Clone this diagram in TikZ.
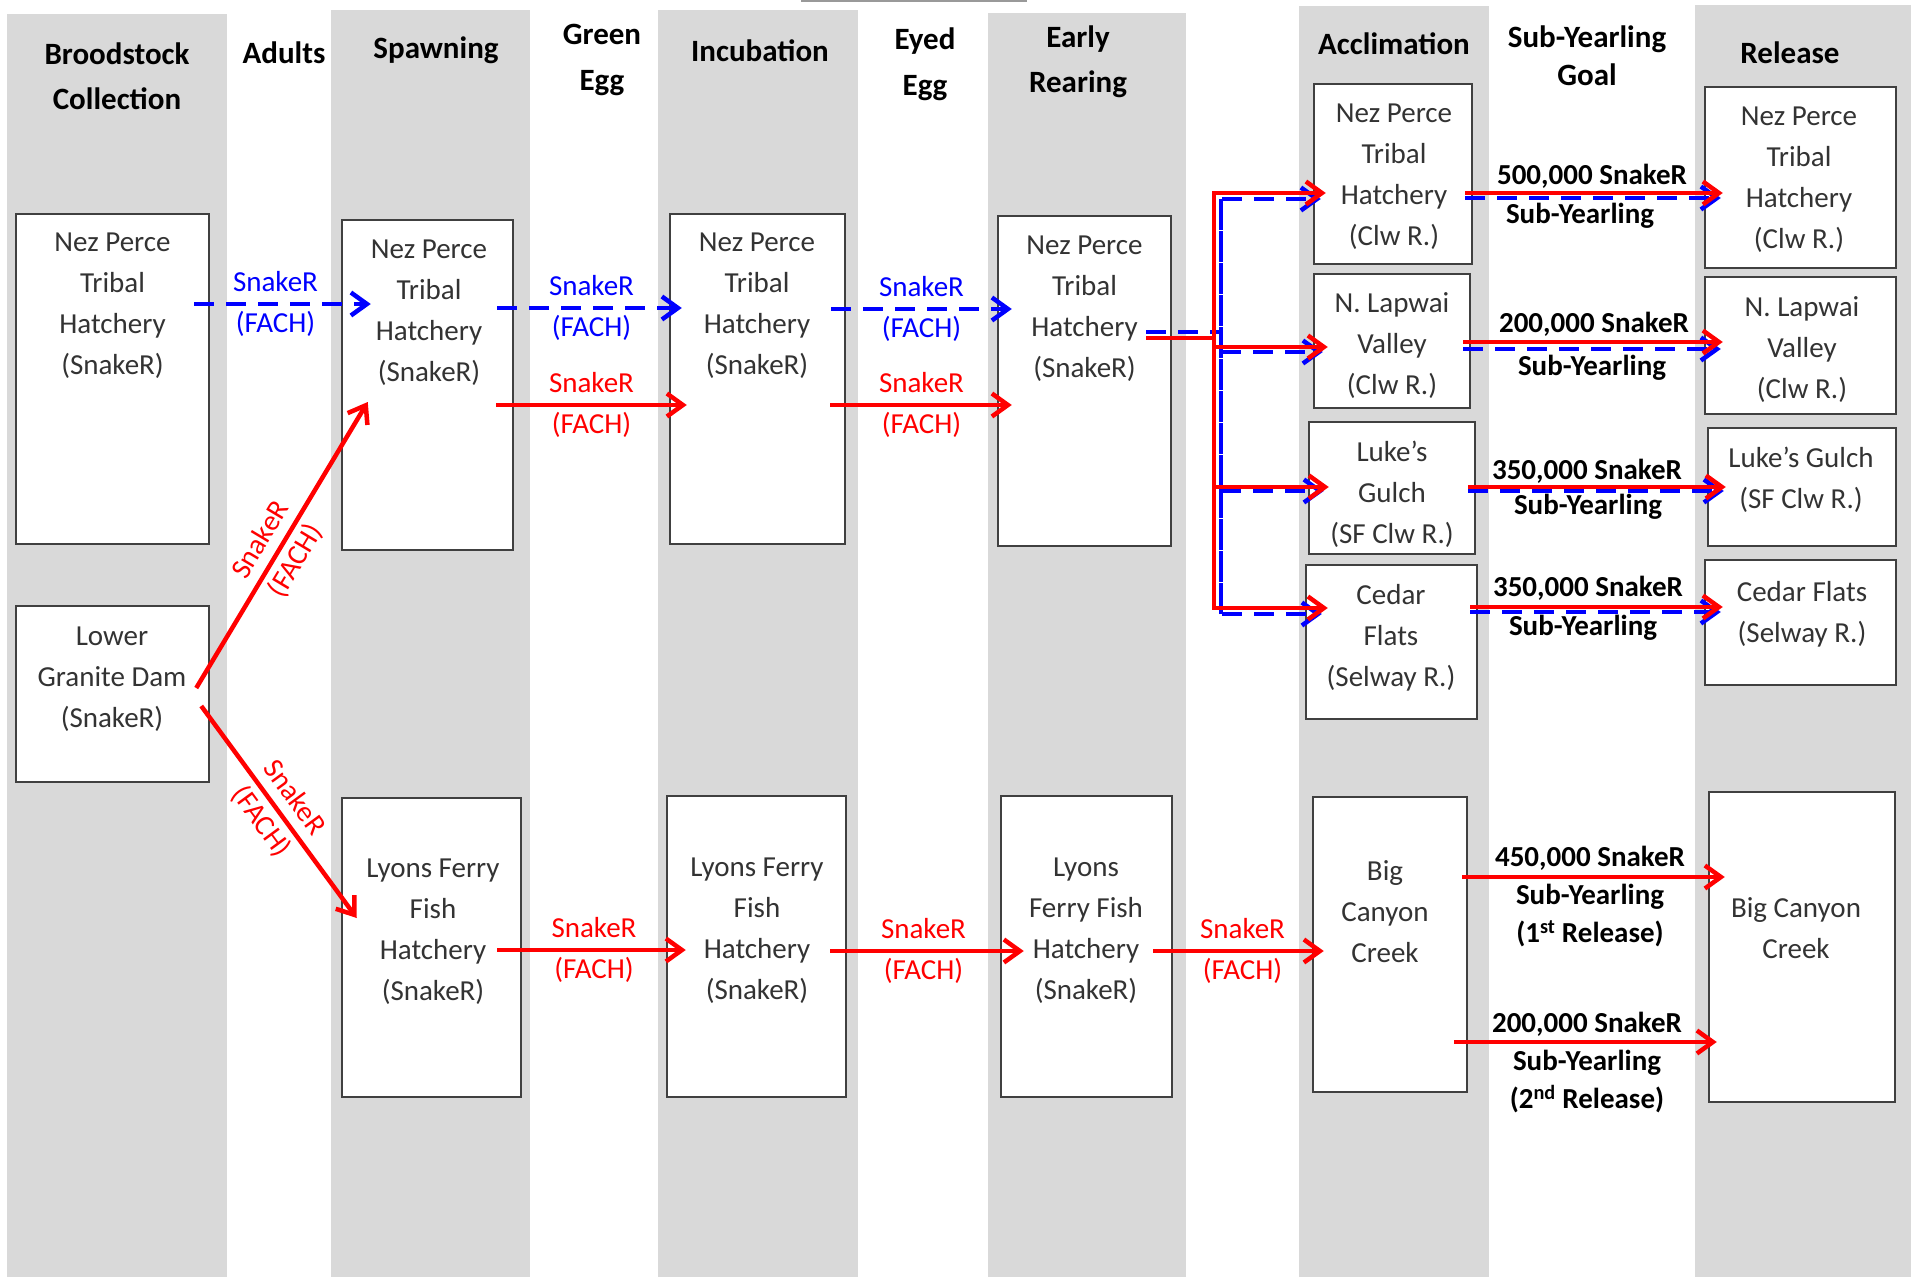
\documentclass[tikz,border=0pt]{standalone}
\usepackage{fontspec}
\setmainfont{Carlito}
\usetikzlibrary{arrows.meta}
\definecolor{lanegray}{RGB}{217,217,217}
\definecolor{boxgray}{RGB}{64,64,64}
\definecolor{flowred}{RGB}{255,0,0}
\definecolor{flowblue}{RGB}{0,0,255}
\newcommand{\stagebox}[5]{\node[box, minimum width={(#4-#2)*1pt}, minimum height={(#5-#3)*1pt}] (#1) at ({(#2+#4)/2},{(#3+#5)/2}) {};}
\tikzset{
    box/.style={draw=boxgray, line width=2.5pt, fill=white, rectangle, inner sep=0pt},
    boxtext/.style={align=center, text=black!80, font=\fontsize{29}{41}\selectfont},
    head/.style={align=center, font=\bfseries\fontsize{31}{45}\selectfont},
    goal/.style={align=center, font=\bfseries\fontsize{29}{38}\selectfont},
    tag/.style={align=center, font=\fontsize{29}{41}\selectfont},
    redline/.style={color=flowred, line width=4.5pt},
    blueline/.style={color=flowblue, line width=4.5pt, dash pattern=on 20pt off 12pt},
    redflow/.style={redline, -{Straight Barb[length=16pt, width=23pt]}},
    blueflow/.style={blueline, -{Straight Barb[length=16pt, width=23pt]}}
}
\begin{document}
\begin{tikzpicture}[x=1pt, y=-1pt]
    \useasboundingbox (0,0) rectangle (1917,1277);

    \foreach \xa/\xb/\yt in {7/227/14, 331/530/10, 658/858/10, 988/1186/13, 1299/1489/6, 1695/1911/5}
        \fill[lanegray] (\xa,\yt) rectangle (\xb,1277);
    \draw[black!40, line width=2pt] (801,1) -- (1027,1);

    \node[head] (h-brood) at (117,76) {Broodstock\\Collection};
    \node[head] (h-adult) at (284,53) {Adults};
    \node[head] (h-spawn) at (436,50) {Spawning};
    \node[head, font=\bfseries\fontsize{31}{46}\selectfont] (h-green) at (602,60) {Green\\Egg};
    \node[head] (h-incub) at (760,51) {Incubation};
    \node[head, font=\bfseries\fontsize{31}{46}\selectfont] (h-eyed) at (925,64) {Eyed\\Egg};
    \node[head] (h-early) at (1078,62) {Early\\Rearing};
    \node[head] (h-accl) at (1394,44) {Acclimation};
    \node[head, font=\bfseries\fontsize{31}{38}\selectfont] (h-goal) at (1587,56) {Sub-Yearling\\Goal};
    \node[head] (h-rel) at (1790,53) {Release};

    \stagebox{bnp}{16}{214}{209}{544}
    \stagebox{blgd}{16}{606}{209}{782}
    \stagebox{snp}{342}{220}{513}{550}
    \stagebox{slf}{342}{798}{521}{1097}
    \stagebox{inp}{670}{214}{845}{544}
    \stagebox{ilf}{667}{796}{846}{1097}
    \stagebox{enp}{998}{216}{1171}{546}
    \stagebox{elf}{1001}{796}{1172}{1097}
    \stagebox{anp}{1314}{84}{1472}{264}
    \stagebox{anl}{1314}{274}{1470}{408}
    \stagebox{alg}{1309}{422}{1475}{554}
    \stagebox{acf}{1306}{565}{1477}{719}
    \stagebox{abc}{1313}{797}{1467}{1092}
    \stagebox{rnp}{1705}{87}{1896}{268}
    \stagebox{rnl}{1705}{277}{1896}{414}
    \stagebox{rlg}{1708}{428}{1896}{546}
    \stagebox{rcf}{1705}{560}{1896}{685}
    \stagebox{rbc}{1709}{792}{1895}{1102}

    \node[boxtext] (bnp-t) at (112.5,306) {Nez Perce\\Tribal\\Hatchery\\(SnakeR)};
    \node[boxtext] (blgd-t) at (112,679) {Lower\\Granite Dam\\(SnakeR)};
    \node[boxtext] (snp-t) at (429,313) {Nez Perce\\Tribal\\Hatchery\\(SnakeR)};
    \node[boxtext] (slf-t) at (433,932) {Lyons Ferry\\Fish\\Hatchery\\(SnakeR)};
    \node[boxtext] (inp-t) at (757,306) {Nez Perce\\Tribal\\Hatchery\\(SnakeR)};
    \node[boxtext] (ilf-t) at (757,931) {Lyons Ferry\\Fish\\Hatchery\\(SnakeR)};
    \node[boxtext] (enp-t) at (1084.5,309) {Nez Perce\\Tribal\\Hatchery\\(SnakeR)};
    \node[boxtext] (elf-t) at (1086,931) {Lyons\\Ferry Fish\\Hatchery\\(SnakeR)};
    \node[boxtext] (anp-t) at (1394,177) {Nez Perce\\Tribal\\Hatchery\\(Clw R.)};
    \node[boxtext] (anl-t) at (1392,346) {N. Lapwai\\Valley\\(Clw R.)};
    \node[boxtext] (alg-t) at (1392,494) {Luke’s\\Gulch\\(SF Clw R.)};
    \node[boxtext] (acf-t) at (1391,638) {Cedar\\Flats\\(Selway R.)};
    \node[boxtext] (abc-t) at (1385,912) {Big\\Canyon\\Creek};
    \node[boxtext] (rnp-t) at (1799,180) {Nez Perce\\Tribal\\Hatchery\\(Clw R.)};
    \node[boxtext] (rnl-t) at (1802,350) {N. Lapwai\\Valley\\(Clw R.)};
    \node[boxtext] (rlg-t) at (1801,480) {Luke’s Gulch\\(SF Clw R.)};
    \node[boxtext] (rcf-t) at (1802,614) {Cedar Flats\\(Selway R.)};
    \node[boxtext] (rbc-t) at (1796,928) {Big Canyon\\Creek};

    \draw[blueflow, shorten <=-16pt, shorten >=-30pt] (bnp.east |- 0,304) -- node[tag] (f-ad) {SnakeR\\(FACH)} (snp.west |- 0,304);
    \draw[blueflow, shorten <=-17pt, shorten >=-13pt] (snp.east |- 0,308) -- node[tag] (f-ge) {SnakeR\\(FACH)} (inp.west |- 0,308);
    \draw[blueflow, shorten <=-15pt, shorten >=-15pt] (inp.east |- 0,309) -- node[tag] (f-ee) {SnakeR\\(FACH)} (enp.west |- 0,309);
    \draw[redflow, shorten <=-18pt, shorten >=-18pt] (snp.east |- 0,405) -- node[tag] (f-ge2) {SnakeR\\(FACH)} (inp.west |- 0,405);
    \draw[redflow, shorten <=-16pt, shorten >=-15pt] (inp.east |- 0,405) -- node[tag] (f-ee2) {SnakeR\\(FACH)} (enp.west |- 0,405);

    \draw[redflow] ([xshift=-14pt, yshift=6pt]blgd.east) -- node[tag, sloped, pos=0.48] (f-up) {SnakeR\\(FACH)} ([xshift=27pt, yshift=-17pt]snp.west);
    \draw[redflow] ([xshift=-9pt, yshift=-12pt]blgd.east) -- node[tag, sloped, pos=0.49] (f-down) {SnakeR\\(FACH)} ([xshift=16pt, yshift=29.5pt]slf.west);

    \draw[redflow, shorten <=-25pt, shorten >=-20pt] (slf.east |- 0,950) -- node[tag] (f-lge) {SnakeR\\(FACH)} (ilf.west |- 0,950);
    \draw[redflow, shorten <=-17pt, shorten >=-24pt] (ilf.east |- 0,951) -- node[tag] (f-lee) {SnakeR\\(FACH)} (elf.west |- 0,951);
    \draw[redflow, shorten <=-20pt, shorten >=-12pt] (elf.east |- 0,951) -- node[tag] (f-ler) {SnakeR\\(FACH)} (abc.west |- 0,951);
    \draw[redflow, shorten <=-6pt, shorten >=-17pt] (abc.east |- 0,877) -- (rbc.west |- 0,877);
    \draw[redflow, shorten <=-14pt, shorten >=-9pt] (abc.east |- 0,1042) -- (rbc.west |- 0,1042);

    \coordinate (btop) at (1221,199);
    \coordinate (bbot) at (1221,614);
    \coordinate (rtop) at (1214,193);
    \coordinate (rbot) at (1214,608);

    \draw[blueline, shorten <=-26pt] (enp.east |- 0,332) -- (btop |- 0,332);
    \draw[blueflow, shorten >=-8pt] (bbot) -- (btop) -- (anp.west |- btop);
    \draw[blueflow, shorten >=-17pt] (btop) -- (bbot) -- (acf.west |- bbot);
    \foreach \n/\y/\s in {anl/352/10, alg/491/16}
        \draw[blueflow, shorten >=-\s pt] (btop |- 0,\y) -- (\n.west |- 0,\y);

    \draw[redline, shorten <=-26pt] (enp.east |- 0,338) -- (rtop |- 0,338);
    \draw[redflow, shorten >=-13pt] (rbot) -- (rtop) -- (anp.west |- rtop);
    \draw[redflow, shorten >=-23pt] (rtop) -- (rbot) -- (acf.west |- rbot);
    \foreach \n/\y/\s in {anl/347/15, alg/487/21}
        \draw[redflow, shorten >=-\s pt] (rtop |- 0,\y) -- (\n.west |- 0,\y);

    \foreach \a/\r/\yr/\yb in {anp/rnp/193/198, anl/rnl/342/349, alg/rlg/487/491, acf/rcf/607/612} {
        \draw[blueflow, shorten <=-8pt, shorten >=-17pt] (\a.east |- 0,\yb) -- (\r.west |- 0,\yb);
        \draw[redflow, shorten <=-8pt, shorten >=-19pt] (\a.east |- 0,\yr) -- (\r.west |- 0,\yr);
    }

    \node[goal] (g-np) at (1592,176) {500,000 SnakeR};
    \node[goal] (g-np2) at (1580,216) {Sub-Yearling};
    \node[goal] (g-nl) at (1594,324) {200,000 SnakeR};
    \node[goal] (g-nl2) at (1592,368) {Sub-Yearling};
    \node[goal] (g-lg) at (1587,471) {350,000 SnakeR};
    \node[goal] (g-lg2) at (1588,507) {Sub-Yearling};
    \node[goal] (g-cf) at (1588,588) {350,000 SnakeR};
    \node[goal] (g-cf2) at (1583,628) {Sub-Yearling};
    \node[goal] (g-bc1) at (1590,897) {450,000 SnakeR\\Sub-Yearling\\(1\textsuperscript{st} Release)};
    \node[goal] (g-bc2) at (1587,1063) {200,000 SnakeR\\Sub-Yearling\\(2\textsuperscript{nd} Release)};
\end{tikzpicture}
\end{document}
